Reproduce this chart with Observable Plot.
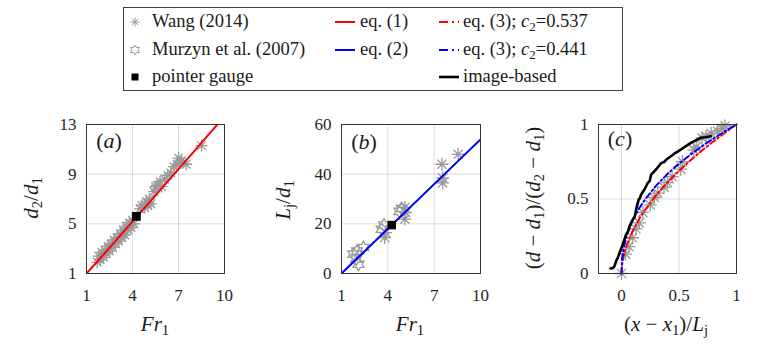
<!DOCTYPE html>
<html>
<head>
<meta charset="utf-8">
<script src="https://cdn.jsdelivr.net/npm/d3@7"></script>
<script src="https://cdn.jsdelivr.net/npm/@observablehq/plot@0.6"></script>
<style>
  html, body { margin: 0; padding: 0; background: #fff; }
  #fig { position: relative; width: 784px; height: 346px; overflow: hidden; background: #fff;
         font-family: 'Liberation Serif', serif; color: #1a1a1a; }
  #fig svg { position: absolute; overflow: visible; }
  .lbl { position: absolute; white-space: nowrap; line-height: 1; }
  .lbl sub { font-size: 0.7em; vertical-align: -0.28em; line-height: 0; font-style: normal; }
  #legend { position: absolute; left: 123px; top: 7px; width: 498px; height: 82px;
            border: 1px solid #444; background: #fff; }
  .lg { position: absolute; white-space: nowrap; font-size: 18.5px; line-height: 1; }
  .lg sub { font-size: 0.7em; vertical-align: -0.28em; line-height: 0; }
</style>
</head>
<body>
<div id="fig"></div>
<script>
// ---- (a) sequent depth ratio d2/d1 against inflow Froude number ----
const wangAFr    = [1.7, 1.8, 1.9, 2.0, 2.1, 2.2, 2.3, 2.4, 2.5, 2.6, 2.7, 2.8, 2.9, 3.0, 3.1, 3.2, 3.3, 3.4, 3.5, 3.6, 3.7, 3.8, 3.9, 4.0, 4.1, 4.5, 4.6, 4.8, 4.9, 5.0, 5.1, 5.2, 5.4, 5.5, 5.6, 5.8, 5.9, 6.1, 6.3, 6.5, 6.7, 6.9, 7.0, 7.1, 7.2, 7.5, 8.5];
const wangARatio = [1.9, 2.4, 2.1, 2.7, 2.3, 2.9, 2.6, 3.2, 2.8, 3.4, 3.1, 3.7, 3.4, 3.9, 3.6, 4.2, 3.9, 4.5, 4.1, 4.8, 4.5, 5.1, 4.7, 5.3, 5.0, 6.2, 6.5, 6.3, 6.8, 6.5, 7.0, 6.6, 7.6, 8.0, 8.1, 8.4, 8.0, 8.6, 8.9, 9.1, 9.6, 9.8, 10.3, 9.9, 10.1, 9.8, 11.3];
const eq1Fr      = [1, 2, 3, 4, 5, 6, 7, 8, 9, 10];
const eq1Ratio   = [1, 2.37, 3.77, 5.18, 6.59, 8.00, 9.41, 10.82, 12.24, 13.65];

// ---- (b) roller length Lj/d1 ----
const wangBFr    = [3.8, 3.85, 5.1, 5.15, 5.1, 7.5, 7.55, 7.55, 8.55];
const wangBLen   = [14.5, 16.5, 26.6, 24.5, 21.9, 44.0, 38.5, 36.5, 48.0];
const murzynFr   = [1.77, 1.95, 2.1, 2.0, 2.42, 3.6, 3.75, 4.75, 4.9];
const murzynLen  = [7.8, 5.8, 3.7, 9.0, 10.5, 17.8, 19.5, 25.0, 26.2];
const eq2Fr      = [1, 10];
const eq2Len     = [0, 54];

// pointer-gauge measurement
const gaugeFr = [4.25];
const gaugeRatio = [5.6];
const gaugeLen = [19.5];

// ---- (c) free-surface profile ----
const eq3X     = [0, 0.005, 0.02, 0.05, 0.1, 0.15, 0.2, 0.3, 0.4, 0.5, 0.6, 0.7, 0.8, 0.9, 1];
const eq3Red   = [0, 0.058, 0.122, 0.200, 0.290, 0.361, 0.421, 0.524, 0.611, 0.689, 0.760, 0.826, 0.887, 0.945, 1];
const eq3Blue  = [0, 0.097, 0.178, 0.267, 0.362, 0.433, 0.492, 0.588, 0.668, 0.737, 0.798, 0.854, 0.906, 0.955, 1];
const imageX   = [-0.096, -0.075, -0.061, -0.047, -0.030, -0.017, 0.011, 0.040, 0.055, 0.070, 0.098, 0.115, 0.127, 0.150, 0.160, 0.170, 0.200, 0.229, 0.245, 0.258, 0.300, 0.344, 0.370, 0.390, 0.430, 0.470, 0.516, 0.560, 0.603, 0.650, 0.690, 0.730, 0.777];
const imageY   = [0.034, 0.036, 0.049, 0.083, 0.110, 0.139, 0.195, 0.262, 0.280, 0.318, 0.362, 0.380, 0.430, 0.497, 0.505, 0.530, 0.564, 0.609, 0.620, 0.664, 0.698, 0.740, 0.748, 0.765, 0.787, 0.810, 0.832, 0.855, 0.877, 0.895, 0.911, 0.915, 0.921];
const wangCX   = [0, 0.035, 0.065, 0.095, 0.125, 0.155, 0.185, 0.25, 0.285, 0.315, 0.37, 0.40, 0.44, 0.515, 0.53, 0.63, 0.65, 0.70, 0.735, 0.78, 0.835, 0.875, 0.9];
const wangCY   = [0, 0.13, 0.18, 0.24, 0.30, 0.34, 0.41, 0.46, 0.51, 0.54, 0.58, 0.61, 0.65, 0.70, 0.75, 0.83, 0.85, 0.91, 0.92, 0.94, 0.955, 0.975, 0.99];

// tick values
const frTicks    = [1, 4, 7, 10];
const ratioTicks = [1, 5, 9, 13];
const lenTicks   = [0, 20, 40, 60];
const unitTicks  = [0, 0.5, 1];
const xcTicks    = [0, 0.5, 1];

const zip = (xs, ys) => xs.map((x, i) => ({x, y: ys[i]}));

// eight-spoke asterisk marker
const asterisk = {
  draw(ctx, size) {
    const r = Math.sqrt(size / Math.PI);
    for (let k = 0; k < 4; k++) {
      const a = k * Math.PI / 4, dx = r * Math.cos(a), dy = r * Math.sin(a);
      ctx.moveTo(-dx, -dy); ctx.lineTo(dx, dy);
    }
  }
};
// six-pointed star marker
const hexagram = {
  draw(ctx, size) {
    const R = Math.sqrt(size / Math.PI) * 1.05, r = R / Math.sqrt(3);
    for (let i = 0; i < 12; i++) {
      const a = -Math.PI / 2 + i * Math.PI / 6, rr = i % 2 ? r : R;
      const x = rr * Math.cos(a), y = rr * Math.sin(a);
      i ? ctx.lineTo(x, y) : ctx.moveTo(x, y);
    }
    ctx.closePath();
  }
};

const GREY = "#999999";
const FONT = "'Liberation Serif', serif";
const fig = document.getElementById("fig");

const M = {left: 44, right: 12, top: 10, bottom: 36};
function panel({left, top, w, h, xDomain, yDomain, xTicks, yTicks, marks}) {
  const chart = Plot.plot({
    width: w + M.left + M.right,
    height: h + M.top + M.bottom,
    marginLeft: M.left, marginRight: M.right, marginTop: M.top, marginBottom: M.bottom,
    style: {fontFamily: FONT, fontSize: "17px", color: "#262626", background: "transparent"},
    x: {domain: xDomain},
    y: {domain: yDomain},
    marks: [
      Plot.gridX(xTicks, {stroke: "#000", strokeOpacity: 0.14}),
      Plot.gridY(yTicks, {stroke: "#000", strokeOpacity: 0.14}),
      Plot.axisX(xTicks, {tickSize: 0, tickPadding: 15, label: null, fontSize: 17, fontFamily: FONT, tickFormat: String}),
      Plot.axisY(yTicks, {tickSize: 0, tickPadding: 10, label: null, fontSize: 17, fontFamily: FONT, tickFormat: String}),
      ...marks,
      Plot.frame({stroke: "#333", strokeWidth: 1})
    ]
  });
  chart.style.left = (left - M.left) + "px";
  chart.style.top = (top - M.top) + "px";
  fig.appendChild(chart);
}

const starOpts = (r) => ({x: "x", y: "y", symbol: asterisk, r, stroke: GREY, strokeWidth: 1.3, fill: "none"});

panel({
  left: 86, top: 124, w: 138, h: 149,
  xDomain: [1, 10], yDomain: [1, 13], xTicks: frTicks, yTicks: ratioTicks,
  marks: [
    Plot.dot(zip(wangAFr, wangARatio), starOpts(6)),
    Plot.line(zip(eq1Fr, eq1Ratio), {x: "x", y: "y", stroke: "#ff0000", strokeWidth: 2, clip: true}),
    Plot.dot(zip(gaugeFr, gaugeRatio), {x: "x", y: "y", symbol: "square", r: 5, fill: "#000", stroke: "none"})
  ]
});

panel({
  left: 341, top: 124, w: 139, h: 149,
  xDomain: [1, 10], yDomain: [0, 60], xTicks: frTicks, yTicks: lenTicks,
  marks: [
    Plot.dot(zip(wangBFr, wangBLen), starOpts(6.5)),
    Plot.dot(zip(murzynFr, murzynLen), {x: "x", y: "y", symbol: hexagram, r: 6, stroke: GREY, strokeWidth: 1.3, fill: "none"}),
    Plot.line(zip(eq2Fr, eq2Len), {x: "x", y: "y", stroke: "#0000ff", strokeWidth: 2, clip: true}),
    Plot.dot(zip(gaugeFr, gaugeLen), {x: "x", y: "y", symbol: "square", r: 4.8, fill: "#000", stroke: "none"})
  ]
});

panel({
  left: 598, top: 124, w: 138, h: 149,
  xDomain: [-0.2, 1], yDomain: [0, 1], xTicks: xcTicks, yTicks: unitTicks,
  marks: [
    Plot.dot(zip(wangCX, wangCY), starOpts(6.5)),
    Plot.line(zip(eq3X, eq3Red), {x: "x", y: "y", stroke: "#ff0000", strokeWidth: 2, strokeDasharray: "6,3,1.5,3"}),
    Plot.line(zip(eq3X, eq3Blue), {x: "x", y: "y", stroke: "#0000ff", strokeWidth: 2, strokeDasharray: "6,3,1.5,3"}),
    Plot.line(zip(imageX, imageY), {x: "x", y: "y", stroke: "#000", strokeWidth: 2.6})
  ]
});

// axis titles and panel tags, with italics and subscripts
function label(html, cx, cy, size, rotate) {
  const d = document.createElement("div");
  d.className = "lbl";
  d.innerHTML = html;
  d.style.fontFamily = FONT;
  d.style.fontSize = size + "px";
  d.style.left = cx + "px";
  d.style.top = cy + "px";
  d.style.transform = "translate(-50%,-50%)" + (rotate ? " rotate(-90deg)" : "");
  fig.appendChild(d);
}
const XS = 21;
label("<i>Fr</i><sub>1</sub>", 155, 324, XS);
label("<i>Fr</i><sub>1</sub>", 410, 324, XS);
label("(<i>x</i> − <i>x</i><sub>1</sub>)/<i>L<sub>j</sub></i>", 666, 324, XS);
label("<i>d</i><sub>2</sub>/<i>d</i><sub>1</sub>", 31, 198, XS, true);
label("<i>L<sub>j</sub></i>/<i>d</i><sub>1</sub>", 283, 200, XS, true);
label("(<i>d</i> − <i>d</i><sub>1</sub>)/(<i>d</i><sub>2</sub> − <i>d</i><sub>1</sub>)", 533, 198, XS, true);
label("(<i>a</i>)", 109, 141, 22);
label("(<i>b</i>)", 364, 142, 22);
label("(<i>c</i>)", 620, 139, 22);

// legend
const legend = document.createElement("div");
legend.id = "legend";
fig.appendChild(legend);
const LX = 123, LY = 7;
function lgText(html, x, cy) {
  const d = document.createElement("div");
  d.className = "lg";
  d.innerHTML = html;
  d.style.fontFamily = FONT;
  d.style.left = (x - LX - 1) + "px";
  d.style.top = (cy - LY - 1 - 10) + "px";
  legend.appendChild(d);
}
function lgSvg(inner, x, cy) {
  const ns = "http://www.w3.org/2000/svg";
  const s = document.createElementNS(ns, "svg");
  s.setAttribute("width", 30); s.setAttribute("height", 16);
  s.style.position = "absolute";
  s.style.left = (x - LX - 1 - 15) + "px";
  s.style.top = (cy - LY - 1 - 8) + "px";
  s.innerHTML = inner;
  legend.appendChild(s);
}
const star = (() => {
  let p = "";
  for (let k = 0; k < 4; k++) {
    const a = k * Math.PI / 4, dx = 4.5 * Math.cos(a), dy = 4.5 * Math.sin(a);
    p += `M${15 - dx},${8 - dy}L${15 + dx},${8 + dy}`;
  }
  return `<path d="${p}" stroke="${GREY}" stroke-width="1" fill="none"/>`;
})();
const hex = (() => {
  const pts = [];
  for (let i = 0; i < 12; i++) {
    const a = -Math.PI / 2 + i * Math.PI / 6, rr = i % 2 ? 2.9 : 5;
    pts.push(`${(15 + rr * Math.cos(a)).toFixed(2)},${(8 + rr * Math.sin(a)).toFixed(2)}`);
  }
  return `<polygon points="${pts.join(" ")}" stroke="${GREY}" stroke-width="1" fill="none"/>`;
})();
const sq = `<rect x="11.5" y="4.5" width="7" height="7" fill="#000"/>`;
const solid = c => `<line x1="5" x2="25" y1="8" y2="8" stroke="${c}" stroke-width="2"/>`;
const dashdot = c => `<line x1="5" x2="25" y1="8" y2="8" stroke="${c}" stroke-width="2" stroke-dasharray="9,4,2,4"/>`;

const rows = [22, 50, 77];
lgSvg(star, 135, rows[0]);  lgText("Wang (2014)", 152, rows[0]);
lgSvg(hex, 135, rows[1]);   lgText("Murzyn et al. (2007)", 152, rows[1]);
lgSvg(sq, 135, rows[2]);    lgText("pointer gauge", 152, rows[2]);
lgSvg(solid("#ff0000"), 345, rows[0]); lgText("eq. (1)", 360, rows[0]);
lgSvg(solid("#0000ff"), 345, rows[1]); lgText("eq. (2)", 360, rows[1]);
lgSvg(dashdot("#ff0000"), 449, rows[0]); lgText("eq. (3); <i>c</i><sub>2</sub>=0.537", 463, rows[0]);
lgSvg(dashdot("#0000ff"), 449, rows[1]); lgText("eq. (3); <i>c</i><sub>2</sub>=0.441", 463, rows[1]);
lgSvg(`<line x1="5" x2="25" y1="8" y2="8" stroke="#000" stroke-width="2.6"/>`, 449, rows[2]); lgText("image-based", 463, rows[2]);
</script>
</body>
</html>
